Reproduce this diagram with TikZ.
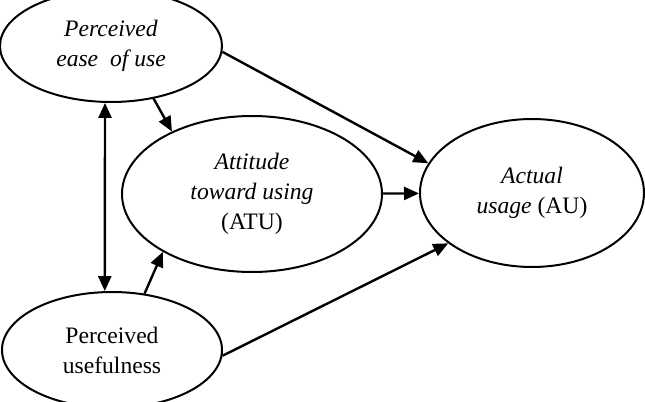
\documentclass[tikz,border=0pt]{standalone}
\usepackage{fontspec}
\setmainfont{Liberation Serif}
\usepackage{tikz}
\usetikzlibrary{positioning,arrows.meta,shapes.geometric}

\begin{document}
\begin{tikzpicture}[x=1pt,y=1pt,>={Triangle[length=7.5pt,width=6.5pt]},
                  ell/.style={draw,ellipse,line width=1pt,align=center,inner sep=0pt,font=\fontsize{11.8}{15}\selectfont},
                  arr/.style={->,line width=1.2pt}
                ]
                \useasboundingbox (0,0) rectangle (322.5,-201);
                \clip (0,0) rectangle (322.5,-201);
                \node[ell,minimum width=111pt,minimum height=56pt] (peou) at (55.5,-23) {\textit{Perceived}\\\textit{ease\ \ of use}};
                \node[ell,minimum width=130pt,minimum height=78pt] (atu) at (126,-97) {\textit{Attitude}\\\textit{toward using}\\(ATU)};
                \node[ell,minimum width=112pt,minimum height=74pt] (au) at (266,-96.5) {\textit{Actual}\\\textit{usage} (AU)};
                \node[ell,minimum width=110pt,minimum height=58pt] (pu) at (56,-175) {Perceived\\usefulness};

                \draw[arr] (peou.-51) -- (atu.142);
                \draw[arr] (peou.-3) -- (au.164);
                \draw[arr] (atu) -- (au);
                \draw[arr] (pu.60) -- (atu.213);
                \draw[arr] (pu.-3) -- (au.211);
                \draw[arr,<->] (peou.-96) -- (pu.97);
                \end{tikzpicture}
\end{document}
